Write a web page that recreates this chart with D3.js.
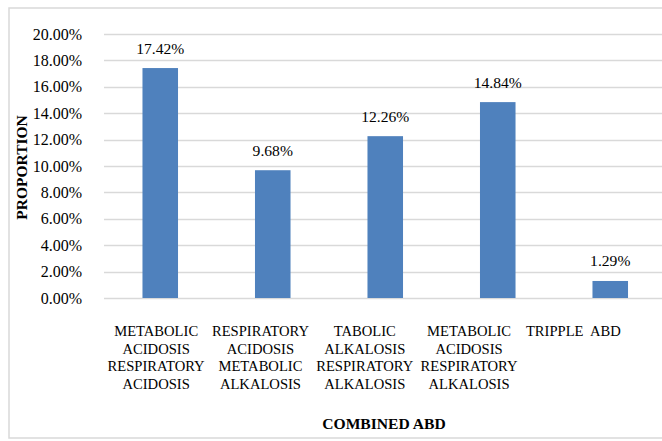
<!DOCTYPE html>
<html>
<head>
<meta charset="utf-8">
<script src="https://cdn.jsdelivr.net/npm/d3@7"></script>
<style>
  html, body { margin: 0; padding: 0; background: #fff; }
  svg { display: block; }
</style>
</head>
<body>
<svg id="chart" width="662" height="441"></svg>
<script>
// Combined acid-base disorders and their share of cases
const categories = [
  "METABOLIC ACIDOSIS RESPIRATORY ACIDOSIS",
  "RESPIRATORY ACIDOSIS METABOLIC ALKALOSIS",
  "TABOLIC ALKALOSIS RESPIRATORY ALKALOSIS",
  "METABOLIC ACIDOSIS RESPIRATORY ALKALOSIS",
  "TRIPPLE  ABD"
];
const categoryLines = [
  ["METABOLIC", "ACIDOSIS", "RESPIRATORY", "ACIDOSIS"],
  ["RESPIRATORY", "ACIDOSIS", "METABOLIC", "ALKALOSIS"],
  ["TABOLIC", "ALKALOSIS", "RESPIRATORY", "ALKALOSIS"],
  ["METABOLIC", "ACIDOSIS", "RESPIRATORY", "ALKALOSIS"],
  ["TRIPPLE  ABD"]
];
const proportions = [17.42, 9.68, 12.26, 14.84, 1.29];
const yTicks = [0, 2, 4, 6, 8, 10, 12, 14, 16, 18, 20];
const xTitle = "COMBINED ABD";
const yTitle = "PROPORTION";

const FONT = "Liberation Serif";
const svg = d3.select("#chart");

// chart frame
svg.append("rect")
  .attr("x", 9).attr("y", 8)
  .attr("width", 670).attr("height", 430)
  .attr("fill", "#fff")
  .attr("stroke", "#d9d9d9")
  .attr("stroke-width", 1.5);

const plot = { left: 104, right: 666.5, top: 34, bottom: 298 };

const x = d3.scaleBand()
  .domain(categories)
  .range([plot.left, plot.right])
  .paddingInner(0.684)
  .paddingOuter(0.342);

// category labels sit on a slightly narrower band
const xLabel = d3.scaleBand()
  .domain(categories)
  .range([plot.left, 625.5]);

const y = d3.scaleLinear()
  .domain([0, 20])
  .range([plot.bottom, plot.top]);

// gridlines
svg.append("g")
  .selectAll("line")
  .data(yTicks)
  .join("line")
  .attr("x1", plot.left)
  .attr("x2", 662)
  .attr("y1", d => Math.round(y(d)) + 0.5)
  .attr("y2", d => Math.round(y(d)) + 0.5)
  .attr("stroke", "#d9d9d9")
  .attr("stroke-width", 1.3);

// y tick labels
svg.append("g")
  .selectAll("text")
  .data(yTicks)
  .join("text")
  .attr("font-family", FONT)
  .attr("font-size", 16)
  .attr("x", 82)
  .attr("y", d => y(d))
  .attr("dy", "0.35em")
  .attr("text-anchor", "end")
  .text(d => d.toFixed(2) + "%");

// bars
svg.append("g")
  .selectAll("rect")
  .data(proportions)
  .join("rect")
  .attr("x", (d, i) => x(categories[i]))
  .attr("width", x.bandwidth())
  .attr("y", d => y(d))
  .attr("height", d => y(0) - y(d))
  .attr("fill", "#4f81bd");

// value labels
svg.append("g")
  .selectAll("text")
  .data(proportions)
  .join("text")
  .attr("font-family", FONT)
  .attr("font-size", 15.6)
  .attr("x", (d, i) => x(categories[i]) + x.bandwidth() / 2)
  .attr("y", d => y(d) - 14.5)
  .attr("text-anchor", "middle")
  .text(d => d.toFixed(2) + "%");

// category labels
const catG = svg.append("g")
  .selectAll("text")
  .data(categoryLines)
  .join("text")
  .attr("font-family", FONT)
  .attr("font-size", 14.6)
  .attr("text-anchor", "middle")
  .style("white-space", "pre");

catG.selectAll("tspan")
  .data((lines, i) => lines.map(t => ({ t, i })))
  .join("tspan")
  .attr("x", d => xLabel(categories[d.i]) + xLabel.bandwidth() / 2)
  .attr("y", (d, j) => 336 + j * 17.6)
  .text(d => d.t);

// axis titles
svg.append("text")
  .attr("font-family", FONT)
  .attr("font-size", 15.6)
  .attr("font-weight", "bold")
  .attr("x", 384)
  .attr("y", 429)
  .attr("text-anchor", "middle")
  .text(xTitle);

svg.append("text")
  .attr("font-family", FONT)
  .attr("font-size", 15.5)
  .attr("font-weight", "bold")
  .attr("transform", "translate(27,167.5) rotate(-90)")
  .attr("text-anchor", "middle")
  .text(yTitle);
</script>
</body>
</html>
